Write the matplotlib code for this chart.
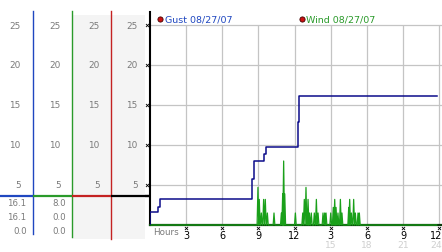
import matplotlib
matplotlib.use("Agg")
import matplotlib.pyplot as plt
import numpy as np

# ---------------- data ----------------
gust_hours = [0, 0.03, 0.7, 0.88, 8.49, 8.61, 9.46, 9.6, 12.3, 12.39, 23.77]
gust_values = [0, 1.6, 2.2, 3.2, 5.7, 8.0, 8.9, 9.7, 12.9, 16.1, 16.1]

wind_peak_hours = [8.96, 9.07, 9.24, 9.43, 9.57, 9.74, 10.29, 10.9, 11.01, 11.09,
                   11.18, 12.06, 12.67, 12.8, 12.94, 13.11, 13.22, 13.38, 13.63,
                   13.8, 13.94, 14.35, 14.49, 14.6, 14.99, 15.2, 15.32, 15.43,
                   15.59, 15.79, 15.92, 16.48, 16.56, 16.7, 16.89, 17.03, 17.25,
                   17.36]
wind_peak_values = [4.7, 3.2, 1.5, 3.2, 3.2, 1.5, 1.5, 1.5, 3.9, 8.0,
                    3.9, 1.5, 1.5, 3.2, 4.7, 3.2, 1.5, 1.5, 1.5,
                    3.2, 1.5, 1.5, 1.5, 1.5, 1.5, 2.2, 3.2, 2.2,
                    1.5, 3.2, 1.5, 2.2, 3.2, 1.5, 3.2, 1.5, 1.5,
                    1.5]
wind_end_hour = 23.77

y_ticks = [5, 10, 15, 20, 25]
y_tick_labels = ["5", "10", "15", "20", "25"]
x_ticks = [3, 6, 9, 12, 15, 18, 21, 24]
x_labels_12h = ["3", "6", "9", "12", "3", "6", "9", "12"]
x_labels_24h = ["", "", "", "", "15", "18", "21", "24"]

current_level = 3.66
gust_stats = ["16.1", "16.1", "0.0"]
wind_stats = ["8.0", "0.0", "0.0"]
legend_labels = ["Gust 08/27/07", "Wind 08/27/07"]

# ---------------- styling ----------------
W, H = 442, 253
GUST_C = "#0c0c8a"
WIND_C = "#1aa01a"
BLUE = "#1f47c0"
GREEN = "#2a9a2a"
RED = "#c42222"
GRID = "#c4c4c4"
LABEL_GRAY = "#7a7a7a"
FONT = "DejaVu Sans"

fig = plt.figure(figsize=(W / 100, H / 100), dpi=100)
fig.patch.set_facecolor("white")

# pixel geometry
x0_px, y0_px = 149.8, 226.0
px_per_hour, px_per_unit = 12.07, 8.0
xmax, ymax = 24.2, (y0_px - 13) / px_per_unit

# ---------- left panel axes (pixel x, data y) ----------
pan = fig.add_axes([0, 0, 149 / W, 1])
pan.set_xlim(0, 149)
pan.set_ylim(-(H - y0_px) / px_per_unit, y0_px / px_per_unit)
pan.axis("off")

def pv(py):
    return (y0_px - py) / px_per_unit

# grey column backgrounds
pan.fill_between([72.3, 145], pv(240), pv(16), color="#f4f4f4", lw=0, zorder=0)

# coloured separators
pan.plot([33.3, 33.3], [pv(235), pv(12)], color=BLUE, lw=1.0, zorder=2)
pan.plot([72.3, 72.3], [pv(238), pv(12)], color=GREEN, lw=1.0, zorder=2)
pan.plot([111, 111], [pv(240), pv(12)], color=RED, lw=1.0, zorder=2)

# current level line
for (xa, xb), c in zip([(0, 33.3), (33.3, 72.3), (72.3, 111), (111, 150)],
                       [BLUE, GREEN, RED, "black"]):
    pan.plot([xa, xb], [current_level, current_level], color=c, lw=1.6,
             solid_capstyle="butt", zorder=3)

# y tick labels in each column
for xr in [20.5, 60.5, 99.5, 137.5]:
    for v, lab in zip(y_ticks, y_tick_labels):
        pan.text(xr, v, lab, ha="right", va="center", fontsize=6.4,
                 color=LABEL_GRAY, family=FONT)

# left axis x marks
pan.scatter([146.5] * len(y_ticks), y_ticks, marker="x", s=5, lw=0.6,
            color="black", zorder=4, clip_on=False)

# stats
for i, (g, w) in enumerate(zip(gust_stats, wind_stats)):
    yy = pv(204 + i * 14)
    pan.text(26.5, yy, g, ha="right", va="center", fontsize=6.2,
             color=LABEL_GRAY, family=FONT)
    pan.text(66, yy, w, ha="right", va="center", fontsize=6.2,
             color=LABEL_GRAY, family=FONT)

# ---------- main axes ----------
ax = fig.add_axes([x0_px / W, 1 - y0_px / H,
                   xmax * px_per_hour / W, ymax * px_per_unit / H])
ax.set_facecolor("none")
ax.set_xlim(0, xmax)
ax.set_ylim(0, ymax)
for s in ["top", "right", "bottom"]:
    ax.spines[s].set_visible(False)
ax.spines["left"].set_color("black")
ax.spines["left"].set_linewidth(1.5)
ax.set_xticks([])
ax.set_yticks([])

# grid
ax.hlines(y_ticks, 0, xmax, color=GRID, lw=0.9, zorder=1)
ax.vlines(x_ticks, 0, 25, color=GRID, lw=0.9, zorder=1)
ax.plot([-0.4, 0], [current_level, current_level], color="black", lw=1.6,
        clip_on=False, solid_capstyle="butt")

# wind
wt, wv = [0.0], [0.0]
hw = 0.07
for t, v in zip(wind_peak_hours, wind_peak_values):
    wt += [t - hw, t, t + hw]
    wv += [0.0, v, 0.0]
wt.append(wind_end_hour)
wv.append(0.0)
ax.plot([0, xmax], [0, 0], color="#0a3a0a", lw=1.6, zorder=2, clip_on=False)
ax.plot(wt, wv, color=WIND_C, lw=0.9, zorder=3, clip_on=False)

# gust
ax.plot(gust_hours, gust_values, drawstyle="steps-post", color=GUST_C,
        lw=1.1, zorder=4)

# x tick marks and labels
ax.scatter(x_ticks, [-0.35] * len(x_ticks), marker="x", s=5, lw=0.6,
           color="black", clip_on=False, zorder=5)
for i, (t, a, b) in enumerate(zip(x_ticks, x_labels_12h, x_labels_24h)):
    tx = t - 0.25 if i == len(x_ticks) - 1 else t
    ax.text(tx, -1.3, a, ha="center", va="center", fontsize=7, color="black",
            family=FONT, clip_on=False)
    if b:
        ax.text(tx - 0.05, -2.45, b, ha="center", va="center", fontsize=6.6,
                color="#cfcfcf", family=FONT, clip_on=False)
ax.text(0.27, -0.8, "Hours", ha="left", va="center", fontsize=6.3,
        color=LABEL_GRAY, family=FONT, clip_on=False)

# legend
for hx, lab, c in zip([0.85, 12.6], legend_labels, [BLUE, GREEN]):
    ax.scatter([hx], [25.75], s=14, color="#cc1010", edgecolor="#400000",
               lw=0.6, zorder=6, clip_on=False)
    ax.text(hx + 0.38, 25.75, lab, ha="left", va="center", fontsize=6.8,
            color=c, family=FONT)

fig.savefig("out.png", dpi=100)
